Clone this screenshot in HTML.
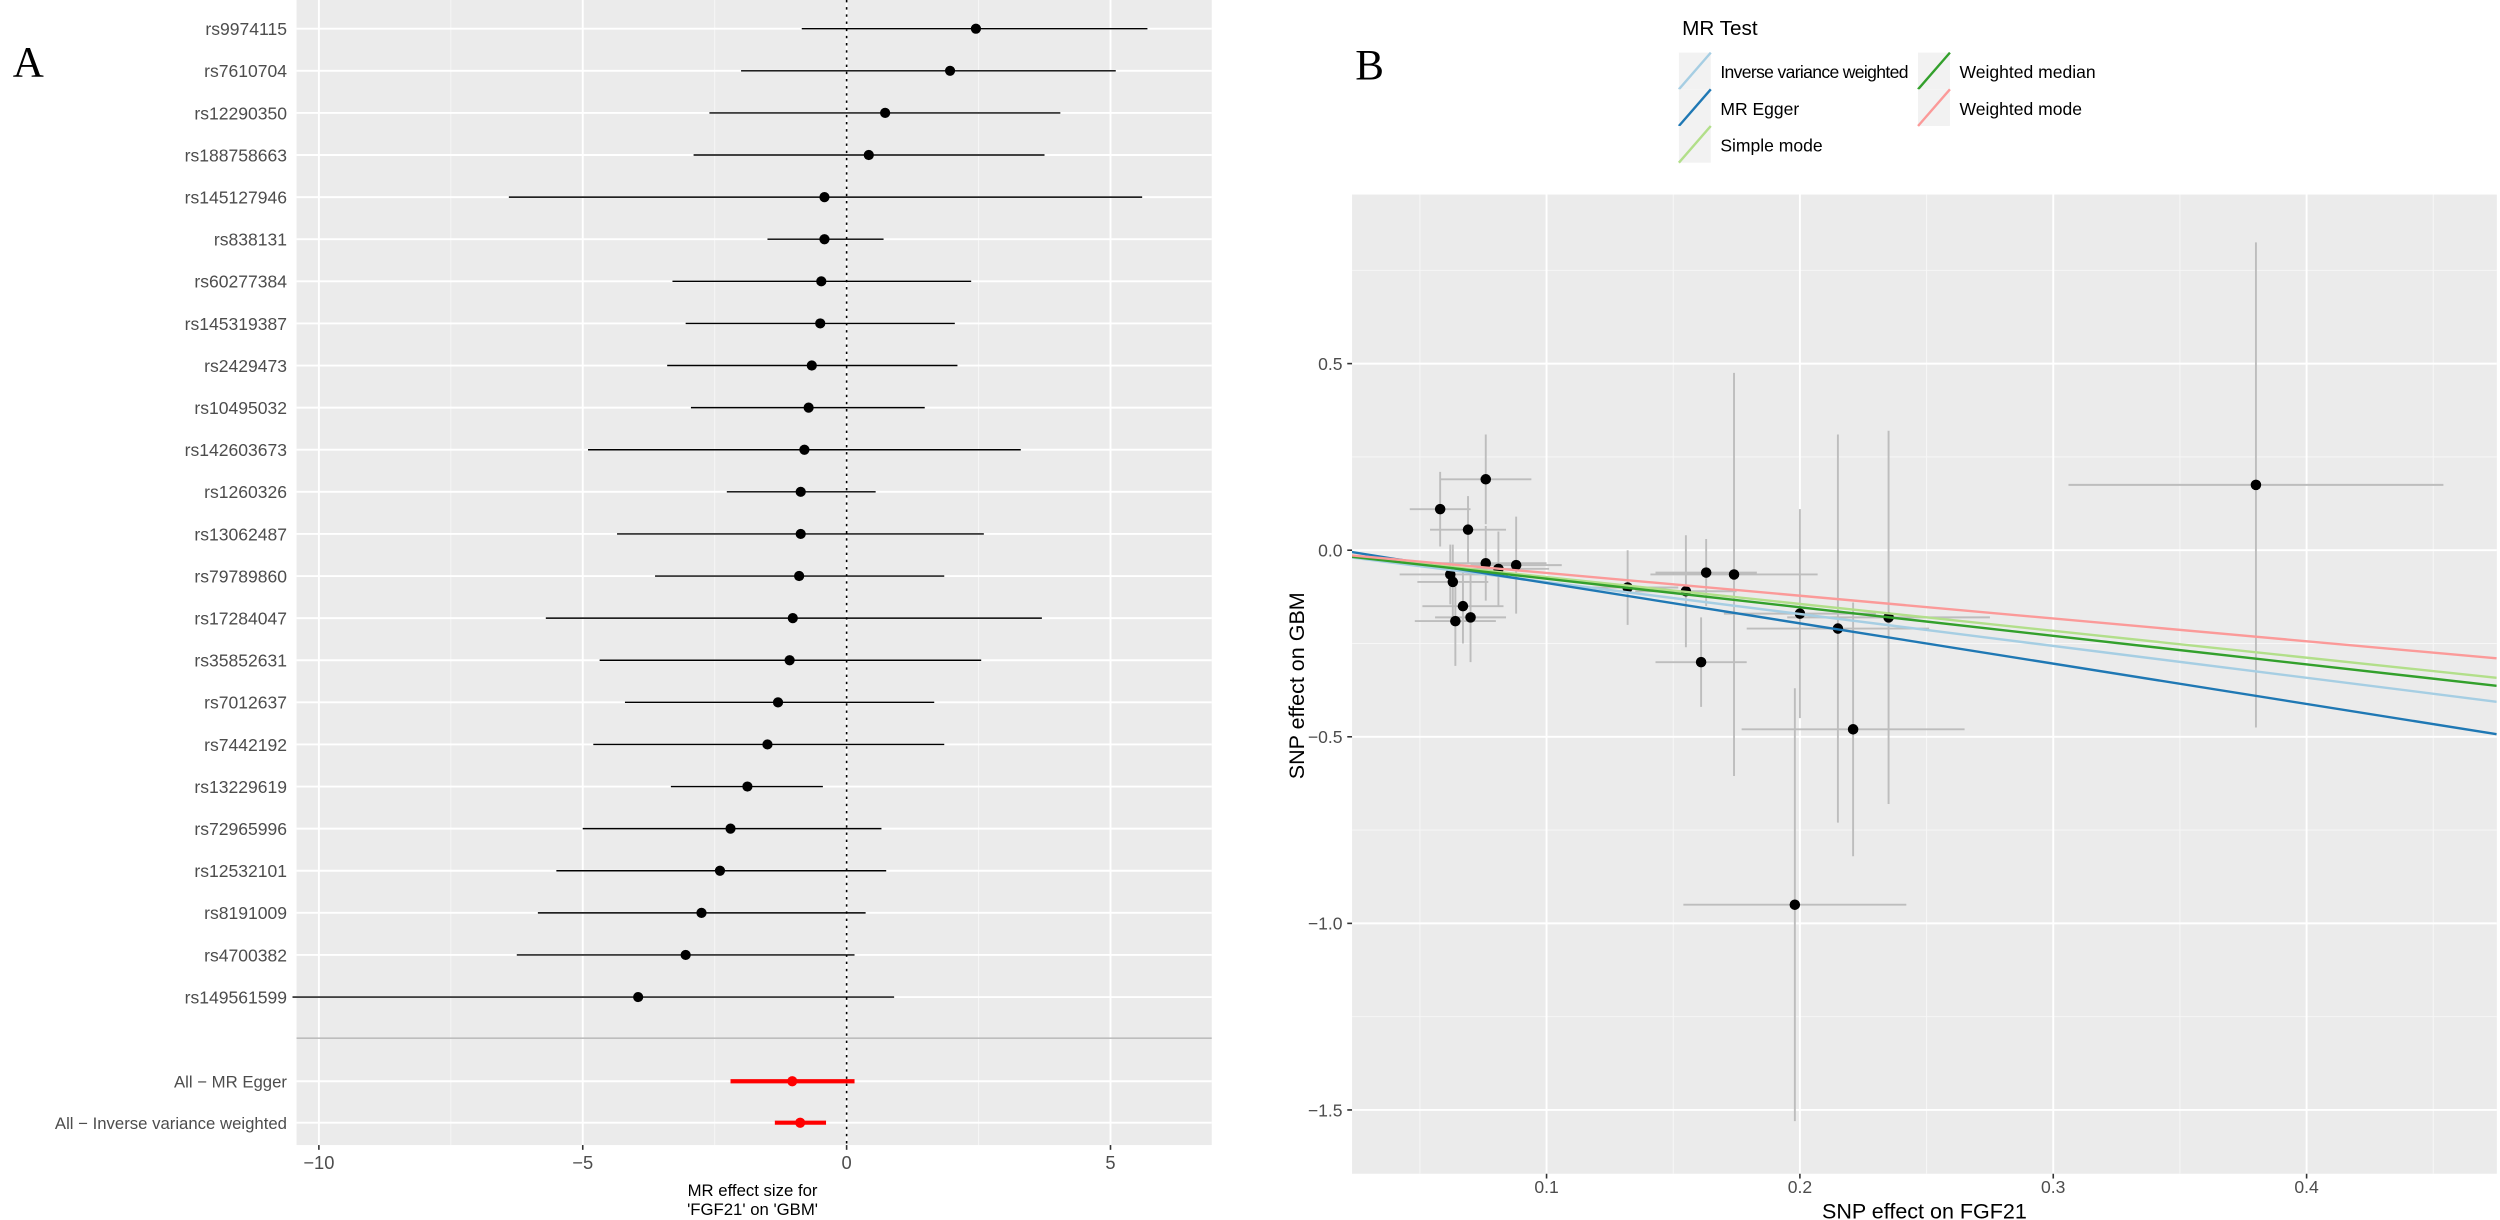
<!DOCTYPE html>
<html><head><meta charset="utf-8"><style>
html,body{margin:0;padding:0;background:#fff;}
svg{display:block;font-family:"Liberation Sans",Arial,sans-serif;}
</style></head><body>
<svg id="fig" width="2500" height="1220" viewBox="0 0 1568 765" preserveAspectRatio="none" xmlns="http://www.w3.org/2000/svg">
<text x="8" y="48" font-family="Liberation Serif,serif" font-size="27">A</text>
<text x="850" y="50" font-family="Liberation Serif,serif" font-size="27">B</text>
<g id="pa"></g>
<g id="pb"></g>
<g id="leg">
<text x="1055" y="22" font-size="13">MR Test</text>
</g>
</svg>
<script>
const NS="http://www.w3.org/2000/svg";
function mk(p,t,a){const e=document.createElementNS(NS,t);for(const k in a)e.setAttribute(k,a[k]);p.appendChild(e);return e;}

// ---------- Panel A data ----------
const snps=["rs9974115","rs7610704","rs12290350","rs188758663","rs145127946","rs838131","rs60277384","rs145319387","rs2429473","rs10495032","rs142603673","rs1260326","rs13062487","rs79789860","rs17284047","rs35852631","rs7012637","rs7442192","rs13229619","rs72965996","rs12532101","rs8191009","rs4700382","rs149561599"];
const est=[2.45,1.96,0.73,0.42,-0.42,-0.42,-0.48,-0.5,-0.66,-0.72,-0.8,-0.87,-0.87,-0.9,-1.02,-1.08,-1.3,-1.5,-1.88,-2.2,-2.4,-2.75,-3.05,-3.95];
const lo=[-0.85,-2.0,-2.6,-2.9,-6.4,-1.5,-3.3,-3.05,-3.4,-2.95,-4.9,-2.27,-4.35,-3.63,-5.7,-4.68,-4.2,-4.8,-3.33,-5.0,-5.5,-5.85,-6.25,-10.5];
const hi=[5.7,5.1,4.05,3.75,5.6,0.7,2.36,2.05,2.1,1.48,3.3,0.55,2.6,1.85,3.7,2.55,1.66,1.85,-0.45,0.66,0.75,0.36,0.15,0.9];
const sumNames=["All − MR Egger","All − Inverse variance weighted"];
const sumEst=[-1.03,-0.88];
const sumLo=[-2.2,-1.36];
const sumHi=[0.15,-0.39];
const xTicksA=[-10,-5,0,5];

const A={x0:186,x1:760,y0:0,y1:718};
const ax=v=>531+v*33.1;
const rowY=i=>18+i*26.4;
const pa=document.getElementById('pa');
let r=mk(pa,'rect',{x:A.x0,y:A.y0,width:A.x1-A.x0,height:A.y1-A.y0,fill:'#ebebeb'});


[-7.5,-2.5,2.5].forEach(v=>mk(pa,'line',{x1:ax(v),x2:ax(v),y1:A.y0,y2:A.y1,stroke:'#f7f7f7','stroke-width':0.6}));
xTicksA.forEach(v=>{
 const l=mk(pa,'line',{x1:ax(v),x2:ax(v),y1:A.y0,y2:A.y1,stroke:'#fff','stroke-width':1.2});
 
 
 mk(pa,'line',{x1:ax(v),x2:ax(v),y1:A.y1,y2:A.y1+3,stroke:'#333','stroke-width':1});
 const t=mk(pa,'text',{x:ax(v),y:A.y1+15,'font-size':11.5,fill:'#4d4d4d','text-anchor':'middle'});t.textContent=v===0?'0':(v<0?'−'+(-v):v);
 
 
});
const allRowsY=[];
snps.forEach((s,i)=>allRowsY.push(rowY(i)));
allRowsY.push(678,704);
allRowsY.forEach(y=>mk(pa,'line',{x1:A.x0,x2:A.x1,y1:y,y2:y,stroke:'#fff','stroke-width':1.2}));
mk(pa,'line',{x1:A.x0,x2:A.x1,y1:651,y2:651,stroke:'#bdbdbd','stroke-width':1});
mk(pa,'line',{x1:ax(0),x2:ax(0),y1:A.y0,y2:A.y1,stroke:'#000','stroke-width':1,'stroke-dasharray':'1.5,3'});
snps.forEach((s,i)=>{
 const y=rowY(i);
 const l=mk(pa,'line',{x1:ax(lo[i]),x2:ax(hi[i]),y1:y,y2:y,stroke:'#000','stroke-width':0.9});
 
 
 const c=mk(pa,'circle',{cx:ax(est[i]),cy:y,r:3.2,fill:'#000'});
 
 
 const t=mk(pa,'text',{x:180,y:y+4,'font-size':11,fill:'#4d4d4d','text-anchor':'end'});t.textContent=s;
 
 
});
sumNames.forEach((s,i)=>{
 const y=[678,704][i];
 const l=mk(pa,'line',{x1:ax(sumLo[i]),x2:ax(sumHi[i]),y1:y,y2:y,stroke:'#ff0000','stroke-width':2.6});
 
 
 const c=mk(pa,'circle',{cx:ax(sumEst[i]),cy:y,r:3.2,fill:'#ff0000'});
 
 
 const t=mk(pa,'text',{x:180,y:y+4,'font-size':10.5,fill:'#4d4d4d','text-anchor':'end'});t.textContent=s;
 
 
});
let t1=mk(pa,'text',{x:472,y:750,'font-size':10.5,'text-anchor':'middle'});t1.textContent='MR effect size for';


let t2=mk(pa,'text',{x:472,y:762,'font-size':10.5,'text-anchor':'middle'});t2.textContent="'FGF21' on 'GBM'";



// ---------- Panel B data ----------
const bx=[0.38,0.198,0.221,0.235,0.215,0.2,0.174,0.163,0.161,0.155,0.132,0.058,0.076,0.069,0.076,0.088,0.081,0.062,0.063,0.067,0.07,0.064];
const by=[0.175,-0.95,-0.48,-0.18,-0.21,-0.17,-0.065,-0.06,-0.3,-0.11,-0.1,0.11,0.19,0.055,-0.035,-0.04,-0.05,-0.065,-0.085,-0.15,-0.18,-0.19];
const bxse=[0.074,0.044,0.044,0.04,0.036,0.03,0.033,0.02,0.018,0.02,0.02,0.012,0.018,0.015,0.024,0.018,0.02,0.02,0.014,0.016,0.014,0.016];
const byse=[0.65,0.58,0.34,0.5,0.52,0.28,0.54,0.09,0.12,0.15,0.1,0.1,0.12,0.09,0.1,0.13,0.1,0.08,0.1,0.1,0.12,0.12];
const methods=["Inverse variance weighted","MR Egger","Simple mode","Weighted median","Weighted mode"];
const slopes=[-0.855,-1.08,-0.72,-0.765,-0.61];
const intercepts=[0,0.02,0,0,0];
const colors=["#a6cee3","#1f78b4","#b2df8a","#33a02c","#fb9a99"];
const xTicksB=[0.1,0.2,0.3,0.4];
const yTicksB=[0.5,0,-0.5,-1,-1.5];

const B={x0:848,x1:1566,y0:122,y1:736};
const bxs=v=>970+(v-0.1)*1589;
const bys=v=>345-v*234;
const pb=document.getElementById('pb');
r=mk(pb,'rect',{x:B.x0,y:B.y0,width:B.x1-B.x0,height:B.y1-B.y0,fill:'#ebebeb'});


[0.05,0.15,0.25,0.35,0.45].forEach(v=>mk(pb,'line',{x1:bxs(v),x2:bxs(v),y1:B.y0,y2:B.y1,stroke:'#f7f7f7','stroke-width':0.6}));
[0.75,0.25,-0.25,-0.75,-1.25].forEach(v=>mk(pb,'line',{x1:B.x0,x2:B.x1,y1:bys(v),y2:bys(v),stroke:'#f7f7f7','stroke-width':0.6}));
xTicksB.forEach(v=>{
 mk(pb,'line',{x1:bxs(v),x2:bxs(v),y1:B.y0,y2:B.y1,stroke:'#fff','stroke-width':1.2});
 mk(pb,'line',{x1:bxs(v),x2:bxs(v),y1:B.y1,y2:B.y1+3,stroke:'#333'});
 const t=mk(pb,'text',{x:bxs(v),y:B.y1+12,'font-size':11,fill:'#4d4d4d','text-anchor':'middle'});t.textContent=v.toFixed(1);
 
 
});
yTicksB.forEach(v=>{
 mk(pb,'line',{x1:B.x0,x2:B.x1,y1:bys(v),y2:bys(v),stroke:'#fff','stroke-width':1.2});
 mk(pb,'line',{x1:B.x0-3,x2:B.x0,y1:bys(v),y2:bys(v),stroke:'#333'});
 const t=mk(pb,'text',{x:B.x0-6,y:bys(v)+4,'font-size':11,fill:'#4d4d4d','text-anchor':'end'});t.textContent=(v<0?'−'+(-v).toFixed(1):v.toFixed(1));
 
 
});
const clip=mk(pb,'clipPath',{id:'cb'});mk(clip,'rect',{x:B.x0,y:B.y0,width:B.x1-B.x0,height:B.y1-B.y0});
const gE=mk(pb,'g',{'clip-path':'url(#cb)'});
bx.forEach((x,i)=>{
 const h=mk(gE,'line',{x1:bxs(x-bxse[i]),x2:bxs(x+bxse[i]),y1:bys(by[i]),y2:bys(by[i]),stroke:'#bdbdbd','stroke-width':1.2});
 
 
 const v=mk(gE,'line',{x1:bxs(x),x2:bxs(x),y1:bys(by[i]-byse[i]),y2:bys(by[i]+byse[i]),stroke:'#bdbdbd','stroke-width':1.2});
 
 
});
bx.forEach((x,i)=>{
 const c=mk(gE,'circle',{cx:bxs(x),cy:bys(by[i]),r:3.3,fill:'#000'});
 
 
});
const xa=0.023,xb=0.475;
methods.forEach((m,i)=>{
 const l=mk(gE,'line',{x1:bxs(xa),x2:bxs(xb),y1:bys(intercepts[i]+slopes[i]*xa),y2:bys(intercepts[i]+slopes[i]*xb),stroke:colors[i],'stroke-width':1.5});
 
 
});
let tx=mk(pb,'text',{x:1207,y:764,'font-size':13.5,'text-anchor':'middle'});tx.textContent='SNP effect on FGF21';


let ty=mk(pb,'text',{x:818,y:430,'font-size':13.5,'text-anchor':'middle',transform:'rotate(-90 818 430)'});ty.textContent='SNP effect on GBM';



// ---------- Legend ----------
const leg=document.getElementById('leg');
const legPos=[[1053,33],[1053,56],[1053,79],[1203,33],[1203,56]];
methods.forEach((m,i)=>{
 const [x,y]=legPos[i];
 const g=mk(leg,'g',{});
 
 
 mk(g,'rect',{x:x,y:y,width:20,height:23,fill:'#f2f2f2'});
 mk(g,'line',{x1:x,x2:x+20,y1:y+23,y2:y,stroke:colors[i],'stroke-width':1.5});
 const t=mk(g,'text',{x:x+26,y:y+16,'font-size':11});t.textContent=m;
 if(i===0)t.setAttribute('textLength',118);
});
</script>
</body></html>
